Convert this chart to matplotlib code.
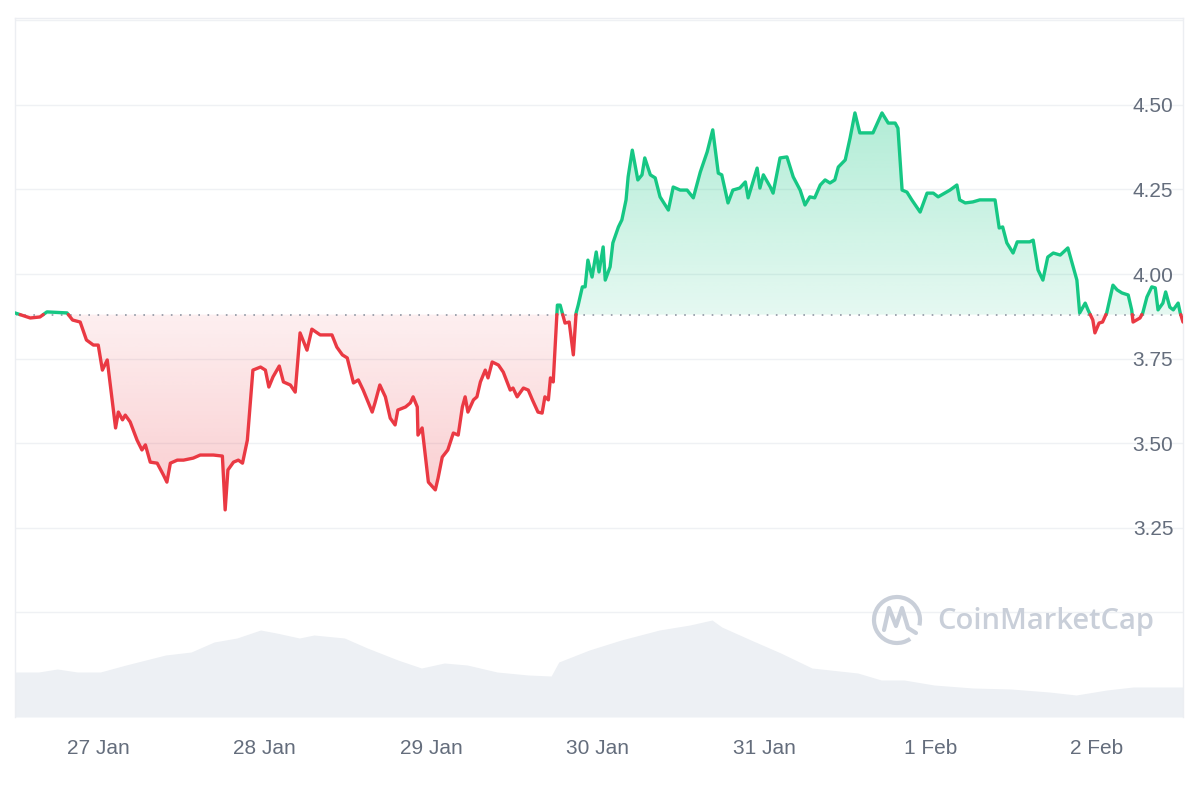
import numpy as np
import matplotlib
matplotlib.use("Agg")
import matplotlib.pyplot as plt
from matplotlib.path import Path
from matplotlib.patches import PathPatch, Arc
from matplotlib.lines import Line2D
import matplotlib.colors as mcolors

plt.rcParams['font.family'] = ['Liberation Sans', 'DejaVu Sans']

# ---- data: hours since 27 Jan 00:00, price in USD ----
hours = [-12.0, -9.8, -8.4, -7.4, -4.5, -3.7, -2.6, -1.7, -0.7, 0.0, 0.6, 1.3, 2.5, 2.9, 3.5, 3.9,
         4.6, 5.6, 6.3, 6.8, 7.5, 8.5, 9.4, 9.9, 10.4, 11.4, 12.3, 13.7, 14.7, 16.6, 17.9, 18.3,
         18.7, 19.5, 20.2, 20.8, 21.5, 22.3, 23.4, 24.1, 24.6, 25.2, 26.1, 26.7, 27.7, 28.4, 29.1,
         30.1, 30.8, 32.0, 33.7, 34.4, 35.2, 35.9, 36.8, 37.5, 38.2, 38.9, 39.5, 39.9, 40.6, 41.4,
         42.1, 42.8, 43.2, 44.3, 45.0, 45.4, 46.0, 46.1, 46.7, 47.6, 48.6, 49.0, 49.6, 50.4, 51.2,
         51.9, 52.5, 52.9, 53.3, 54.1, 54.6, 55.1, 55.8, 56.2, 56.8, 57.7, 58.4, 59.4, 59.8, 60.4,
         61.3, 62.0, 62.6, 63.4, 64.0, 64.4, 64.9, 65.2, 65.6, 66.2, 66.6, 67.3, 67.9, 68.5, 68.9,
         69.2, 69.8, 70.2, 70.6, 71.2, 71.8, 72.2, 72.8, 73.1, 73.8, 74.2, 75.0, 75.5, 76.1, 76.4,
         77.0, 77.8, 78.4, 78.8, 79.6, 80.3, 81.0, 82.2, 82.9, 83.9, 84.9, 85.8, 86.8, 87.8, 88.6,
         89.4, 89.9, 90.8, 91.5, 92.5, 93.3, 93.7, 94.4, 95.0, 95.4, 95.9, 96.9, 97.3, 98.3, 99.3,
         100.2, 101.2, 101.9, 102.6, 103.3, 104.1, 104.8, 105.5, 106.2, 106.7, 107.7, 108.4, 109.1,
         109.8, 111.7, 113.0, 113.9, 114.9, 115.3, 115.9, 116.6, 117.3, 118.5, 119.5, 120.4, 121.1,
         122.8, 123.8, 124.2, 125.0, 126.1, 127.1, 129.3, 129.9, 130.4, 131.0, 131.9, 132.5, 134.3,
         134.8, 135.5, 136.2, 136.9, 137.7, 138.7, 139.8, 141.1, 141.5, 142.3, 142.7, 143.4, 143.7,
         144.3, 144.8, 145.4, 146.3, 146.9, 147.6, 148.5, 149.0, 149.2, 150.2, 150.6, 151.2, 151.9,
         152.4, 152.8, 153.5, 153.9, 154.5, 155.0, 155.2, 155.7, 156.0, 156.4]
price = [3.885, 3.870, 3.873, 3.888, 3.885, 3.864, 3.858, 3.805, 3.790, 3.790, 3.716, 3.746, 3.545,
         3.592, 3.569, 3.583, 3.563, 3.509, 3.480, 3.495, 3.444, 3.441, 3.406, 3.385, 3.441, 3.450,
         3.450, 3.456, 3.465, 3.465, 3.462, 3.303, 3.421, 3.444, 3.450, 3.441, 3.509, 3.716, 3.725,
         3.716, 3.666, 3.696, 3.728, 3.681, 3.672, 3.651, 3.826, 3.775, 3.837, 3.820, 3.820, 3.784,
         3.761, 3.752, 3.678, 3.687, 3.657, 3.622, 3.592, 3.619, 3.672, 3.637, 3.574, 3.554, 3.598,
         3.607, 3.619, 3.637, 3.607, 3.524, 3.545, 3.385, 3.362, 3.397, 3.459, 3.480, 3.530, 3.524,
         3.607, 3.637, 3.592, 3.628, 3.637, 3.681, 3.716, 3.693, 3.740, 3.731, 3.710, 3.657, 3.663,
         3.637, 3.663, 3.657, 3.628, 3.592, 3.589, 3.637, 3.628, 3.693, 3.681, 3.908, 3.908, 3.855,
         3.858, 3.761, 3.885, 3.908, 3.962, 3.962, 4.041, 3.991, 4.065, 4.006, 4.080, 3.982, 4.021,
         4.092, 4.139, 4.160, 4.219, 4.287, 4.366, 4.278, 4.293, 4.343, 4.293, 4.284, 4.228, 4.189,
         4.257, 4.248, 4.248, 4.225, 4.301, 4.361, 4.426, 4.298, 4.293, 4.210, 4.248, 4.254, 4.272,
         4.225, 4.272, 4.313, 4.254, 4.293, 4.257, 4.239, 4.343, 4.346, 4.287, 4.248, 4.204, 4.228,
         4.225, 4.263, 4.278, 4.269, 4.278, 4.316, 4.337, 4.402, 4.476, 4.417, 4.417, 4.476, 4.446,
         4.446, 4.431, 4.248, 4.242, 4.219, 4.183, 4.239, 4.239, 4.228, 4.248, 4.263, 4.219, 4.210,
         4.213, 4.219, 4.219, 4.136, 4.139, 4.092, 4.062, 4.095, 4.095, 4.100, 4.012, 3.982, 4.050,
         4.062, 4.056, 4.077, 3.982, 3.885, 3.914, 3.894, 3.864, 3.826, 3.855, 3.858, 3.885, 3.967,
         3.953, 3.944, 3.938, 3.894, 3.858, 3.870, 3.885, 3.932, 3.962, 3.959, 3.894, 3.914, 3.947,
         3.902, 3.894, 3.900, 3.914, 3.885, 3.858]

vol_hours = [-12.0, -8.6, -5.9, -3.0, 0.3, 4.0, 9.7, 13.4, 16.7, 20.0, 23.4, 25.7, 29.0, 31.1, 35.5,
             38.8, 43.2, 46.6, 49.9, 53.2, 57.5, 62.0, 65.3, 66.4, 70.8, 75.4, 80.9, 85.3, 88.5,
             89.9, 94.1, 98.4, 102.9, 109.5, 112.9, 116.2, 120.5, 126.1, 131.6, 137.1, 141.0,
             145.4, 149.2, 156.4]
volume = [45, 45, 48, 45, 45, 52, 62, 65, 75, 79, 87, 84, 79, 82, 79, 69, 57, 49, 54, 52, 45, 42,
          41, 55, 67, 77, 87, 92, 97, 90, 77, 64, 49, 44, 37, 37, 32, 29, 28, 25, 22, 27, 30, 30]

baseline = 3.88
day_ticks = [0, 24, 48, 72, 96, 120, 144]
day_labels = ["27 Jan", "28 Jan", "29 Jan", "30 Jan", "31 Jan", "1 Feb", "2 Feb"]
price_ticks = [3.00, 3.25, 3.50, 3.75, 4.00, 4.25, 4.50, 4.75]
price_labels = ["", "3.25", "3.50", "3.75", "4.00", "4.25", "4.50", ""]

GREEN = "#16c784"
RED = "#ea3943"
TXT = "#646d7c"

fig = plt.figure(figsize=(12, 8), dpi=100)
rect = [15 / 1200, 83 / 800, 1168 / 1200, 699 / 800]
ax_v = fig.add_axes(rect)
ax = fig.add_axes(rect)
ax.patch.set_visible(False)

# volume
ax_v.fill_between(vol_hours, volume, 0, color="#edf0f4", lw=0)
ax_v.set_xlim(-12.0, 156.4)
ax_v.set_ylim(0, 699)
ax_v.axis("off")

t = np.array(hours, dtype=float)
p = np.array(price, dtype=float)
tt, pp = [t[0]], [p[0]]
for i in range(1, len(t)):
    a, b = p[i - 1] - baseline, p[i] - baseline
    if a * b < 0:
        f = a / (a - b)
        tt.append(t[i - 1] + f * (t[i] - t[i - 1]))
        pp.append(baseline)
    tt.append(t[i])
    pp.append(p[i])
tt = np.array(tt)
pp = np.array(pp)


def grad_fill(lower, upper, color, y0, y1, a0, a1):
    coll = ax.fill_between(tt, lower, upper, facecolor="none", edgecolor="none", lw=0)
    path = Path.make_compound_path(*coll.get_paths())
    patch = PathPatch(path, transform=ax.transData, facecolor="none", edgecolor="none")
    ax.add_patch(patch)
    n = 256
    img = np.zeros((n, 2, 4))
    img[..., :3] = mcolors.to_rgb(color)
    img[..., 3] = np.linspace(a0, a1, n)[:, None]
    im = ax.imshow(img, extent=[tt.min(), tt.max(), y0, y1], origin="lower",
                   aspect="auto", interpolation="bilinear", zorder=1)
    im.set_clip_path(patch)


grad_fill(np.full_like(pp, baseline), np.maximum(pp, baseline), GREEN, baseline, pp.max(), 0.11, 0.33)
grad_fill(np.minimum(pp, baseline), np.full_like(pp, baseline), RED, pp.min(), baseline, 0.26, 0.08)

green = np.where(pp >= baseline, pp, np.nan)
red = np.where(pp <= baseline, pp, np.nan)
ax.plot(tt, green, color=GREEN, lw=2.4, solid_joinstyle="round", solid_capstyle="round", zorder=3)
ax.plot(tt, red, color=RED, lw=2.4, solid_joinstyle="round", solid_capstyle="round", zorder=3)

ax.axhline(baseline, color="#8f96a3", lw=1.2, ls=(0, (1, 4.5)), zorder=2)

ax.set_xlim(-12.0, 156.4)
ax.set_ylim(4.0 - 443 / 338.4, 4.0 + 256 / 338.4)

ax.set_yticks(price_ticks)
ax.set_yticklabels(price_labels)
ax.yaxis.tick_right()
ax.tick_params(axis="y", length=0, pad=-7, labelsize=15, labelcolor=TXT)
for lab in ax.get_yticklabels():
    lab.set_horizontalalignment("right")
ax.set_xticks(day_ticks)
ax.set_xticklabels(day_labels)
ax.tick_params(axis="x", length=0, pad=16, labelsize=15, labelcolor=TXT)
ax.grid(axis="y", color="#eff1f4", lw=1)
ax.set_axisbelow(True)

for side in ["left", "top", "right"]:
    ax.spines[side].set_color("#eceef2")
    ax.spines[side].set_linewidth(1)
ax.spines["bottom"].set_visible(False)

# watermark
wm = "#c9cfd9"
fig.text(937 / 1200, 1 - 622 / 800, "CoinMarketCap", fontsize=21, color=wm,
         ha="left", va="center", fontweight="semibold", family=["Open Sans", "DejaVu Sans"])
fig.patches.append(Arc((897 / 1200, 1 - 620 / 800), 46 / 1200, 46 / 800, theta1=-20, theta2=295,
                       transform=fig.transFigure, color=wm, lw=3))
fig.lines.append(Line2D([884 / 1200, 889 / 1200, 896 / 1200, 902 / 1200, 908 / 1200, 916 / 1200],
                        [1 - 630 / 800, 1 - 608 / 800, 1 - 626 / 800, 1 - 608 / 800,
                         1 - 628 / 800, 1 - 633 / 800],
                        transform=fig.transFigure, color=wm, lw=3, solid_joinstyle="round",
                        solid_capstyle="round"))

fig.savefig("out.png", dpi=100, facecolor="white")
